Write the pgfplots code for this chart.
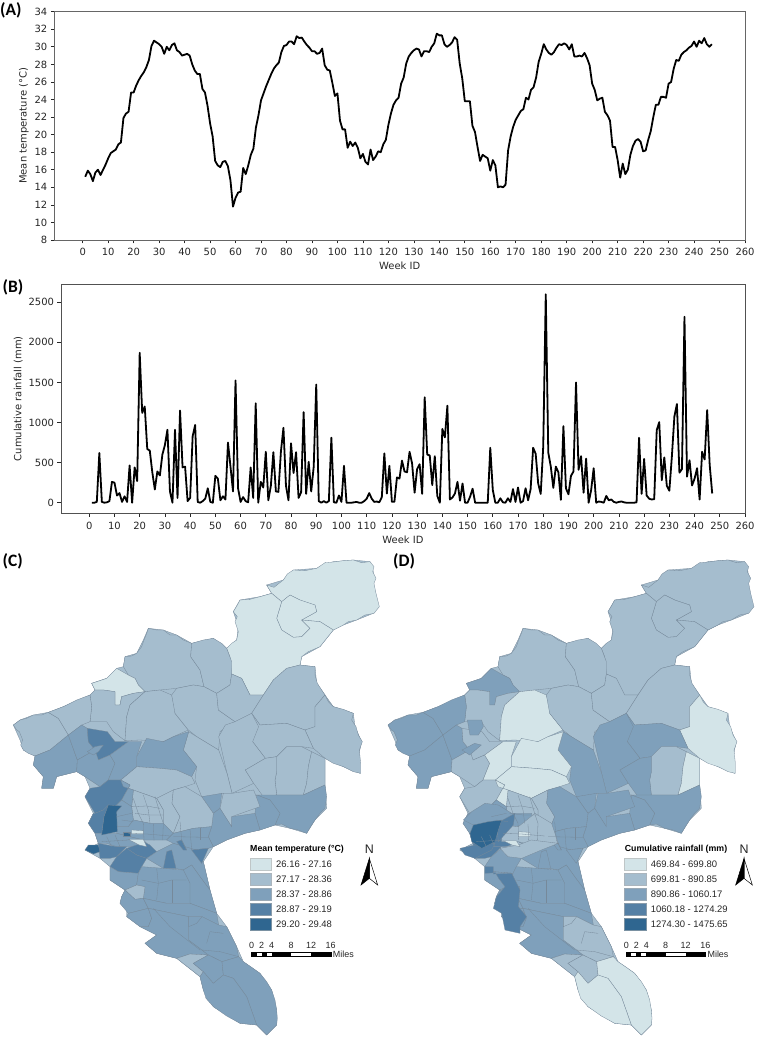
\documentclass[border=0pt]{standalone}
\usepackage{fontspec}
\setmainfont{DejaVu Sans}
\newfontfamily\calib{Carlito}
\newfontfamily\arial{Liberation Sans}
\usepackage{pgfplots}
\pgfplotsset{compat=1.18}

\definecolor{lev1}{HTML}{D3E4E8}
\definecolor{lev2}{HTML}{A5BDCE}
\definecolor{lev3}{HTML}{7FA0BB}
\definecolor{lev4}{HTML}{5580A5}
\definecolor{lev5}{HTML}{2F6690}
\definecolor{edgec}{HTML}{76899A}
\definecolor{inkc}{HTML}{262626}

\pgfplotsset{
  lineaxis/.style={
    scale only axis, axis on top=false,
    tick align=outside, major tick length=3.5bp,
    tick style={draw=inkc, line width=.7bp},
    xtick pos=bottom, ytick pos=left,
    axis line style={draw=inkc!80, line width=.7bp},
    xtick={0,10,...,260}, xmax=260,
    tick label style={font=\fontsize{10}{12}\selectfont, text=inkc},
    xticklabel style={yshift=-1.5bp},
    label style={font=\fontsize{10}{12}\selectfont, text=inkc},
    /pgf/number format/assume math mode=true,
    /pgf/number format/1000 sep={},
    xlabel={Week ID},
  },
  mapaxis/.style={
    scale only axis, hide axis, clip=false,
    width=380bp, height=487bp,
    xmin=0, xmax=1140, ymin=0, ymax=1461, y dir=reverse,
    anchor=south west,
  },
}

% districts, in pixels of the 3x crop: \R{level in C}{level in D}{outline}
\newcommand{\regions}{%
\R{1}{2}{(815,130)(800,105)(822,112)(850,90)(862,72)(880,60)(915,62)(950,55)(975,38)(1000,36)(1030,32)(1060,30)(1085,38)(1110,35)(1122,50)(1118,65)(1128,85)(1122,100)(1128,130)(1138,170)(1122,190)(1095,195)(1070,210)(1045,215)(1030,225)(1000,240)(960,215)(905,210)(950,185)(945,165)(900,150)(870,135)(845,155)}
\R{1}{2}{(870,135)(900,150)(945,165)(950,185)(905,210)(930,235)(905,260)(880,262)(845,240)(830,205)(845,155)}
\R{1}{2}{(720,150)(750,148)(780,140)(815,130)(845,155)(830,205)(845,240)(880,262)(905,260)(930,235)(905,210)(960,215)(1000,240)(980,265)(960,290)(925,305)(905,320)(900,345)(860,355)(820,390)(790,435)(750,435)(725,385)(695,372)(690,320)(680,295)(695,280)(710,270)(715,245)(705,215)(712,200)(700,185)(712,165)}
\R{2}{2}{(370,350)(375,320)(395,318)(410,310)(425,290)(432,270)(440,250)(445,235)(470,240)(490,240)(510,255)(530,255)(550,270)(575,280)(572,320)(600,360)(612,410)(580,405)(530,415)(480,420)(435,425)(415,405)(405,385)(385,375)}
\R{2}{2}{(575,280)(610,270)(640,265)(665,280)(680,295)(695,335)(695,372)(690,405)(650,430)(612,410)(600,360)(572,320)}
\R{1}{3}{(275,400)(300,392)(320,385)(335,370)(350,355)(385,375)(405,385)(415,405)(435,425)(400,430)(365,440)(360,465)(345,465)(345,425)(310,420)(285,420)}
\R{2}{2}{(285,420)(310,420)(345,425)(345,465)(360,465)(365,440)(400,430)(435,425)(390,465)(380,500)(375,572)(340,545)(320,515)(270,515)(275,470)(270,435)}
\R{2}{3}{(40,525)(60,510)(80,505)(100,495)(125,495)(145,487)(175,505)(205,555)(150,600)(105,618)(85,610)(70,600)(62,585)(68,570)(58,545)(50,540)}
\R{2}{3}{(145,487)(190,470)(230,450)(270,435)(275,470)(270,515)(245,525)(205,555)(175,505)}
\R{2}{1}{(435,425)(480,420)(515,435)(525,475)(525,490)(565,540)(520,560)(490,575)(420,570)(375,572)(380,500)(390,465)}
\R{2}{2}{(530,415)(580,405)(612,410)(650,430)(655,480)(705,515)(660,545)(656,600)(590,560)(565,540)(525,490)(515,435)}
\R{2}{2}{(650,430)(690,405)(695,372)(725,385)(750,435)(790,435)(755,490)(705,515)(655,480)}
\R{2}{2}{(790,435)(820,390)(860,355)(900,345)(925,348)(945,350)(945,375)(952,400)(965,420)(975,435)(945,470)(945,530)(915,540)(860,520)(780,525)(755,490)}
\R{2}{1}{(975,435)(985,455)(1000,470)(1030,478)(1060,490)(1055,510)(1068,530)(1075,555)(1087,575)(1078,600)(1082,640)(1082,670)(1060,665)(1030,650)(1000,640)(975,625)(940,595)(915,540)(945,530)(945,470)}
\R{2}{3}{(755,490)(780,525)(860,520)(915,540)(940,595)(905,590)(860,590)(830,620)(796,625)(758,575)}
\R{2}{3}{(656,560)(676,525)(705,515)(755,490)(776,530)(758,575)(796,625)(736,660)(761,700)(696,730)(681,670)}
\R{2}{2}{(830,620)(860,590)(905,590)(935,605)(925,650)(920,700)(910,735)(830,735)(825,690)(830,665)}
\R{2}{1}{(935,605)(975,625)(975,705)(910,735)(920,700)(925,650)}
\R{2}{3}{(796,625)(830,620)(830,665)(825,690)(830,735)(790,740)(761,700)(736,660)}
\R{2}{3}{(566,545)(590,560)(656,600)(681,670)(696,730)(670,730)(640,740)(605,740)(585,690)(590,650)(550,600)}
\R{3}{1}{(410,620)(440,565)(490,575)(520,560)(566,545)(550,600)(590,650)(575,680)(530,660)(480,655)(410,650)}
\R{2}{1}{(362,690)(410,650)(480,655)(530,660)(575,680)(585,700)(555,710)(520,720)(470,745)(400,720)(370,710)}
\R{3}{3}{(105,618)(150,600)(205,555)(232,630)(230,665)(170,680)(160,715)(125,715)(130,680)(100,645)}
\R{3}{3}{(205,555)(245,525)(262,535)(265,575)(285,600)(232,630)}
\R{4}{2}{(262,535)(322,545)(345,575)(385,575)(330,615)(295,630)(285,600)(265,575)}
\R{3}{2}{(232,630)(285,600)(295,630)(330,615)(345,640)(325,690)(300,710)(255,680)(230,665)}
\R{3}{1}{(330,615)(385,575)(425,575)(410,620)(410,650)(362,690)(325,690)(345,640)}
\R{3}{3}{(770,735)(830,735)(910,735)(975,705)(980,740)(975,775)(960,790)(945,810)(935,825)(920,850)(895,840)(870,835)(845,822)(825,825)(840,790)(810,750)}
\R{3}{3}{(770,735)(810,750)(840,790)(825,825)(780,840)(765,790)}
\R{3}{3}{(605,740)(665,730)(660,775)(640,790)}
\R{2}{3}{(670,730)(696,730)(761,720)(780,770)(695,800)(695,830)(675,800)(660,775)}
\R{3}{3}{(640,790)(660,775)(695,830)(695,800)(765,790)(780,840)(735,850)(680,870)(640,890)(625,860)(635,830)}
\R{2}{2}{(470,745)(520,720)(516,760)(540,800)(520,850)(490,820)(490,780)}
\R{2}{3}{(520,720)(555,710)(605,740)(640,790)(635,830)(580,835)(520,850)(540,800)(516,760)}
\R{2}{2}{(400,720)(470,745)(490,780)(490,820)(450,820)(400,810)(395,770)}
\R{4}{2}{(255,740)(270,715)(300,710)(325,690)(362,690)(390,705)(365,750)(345,770)(310,780)(285,790)}
\R{3}{1}{(362,690)(370,710)(400,720)(395,770)(365,750)(390,705)}
\R{4}{3}{(280,790)(285,790)(310,780)(325,765)(312,800)(305,850)(285,850)(265,820)}
\R{3}{3}{(345,770)(365,750)(395,770)(400,810)(385,830)(350,830)}
\R{3}{2}{(350,830)(385,830)(400,810)(450,820)(490,820)(520,850)(500,870)(430,870)(350,850)}
\R{3}{4}{(285,850)(305,850)(350,850)(430,870)(440,880)(430,890)(350,890)(320,880)(295,880)}
\R{3}{3}{(520,850)(580,835)(635,830)(625,860)(640,890)(625,895)(575,900)(520,880)(500,870)}
\R{4}{4}{(295,880)(350,890)(380,890)(350,920)(330,925)(300,925)}
\R{4}{2}{(430,875)(450,885)(470,905)(440,925)(410,915)(380,895)(410,885)}
\R{4}{3}{(330,950)(350,920)(380,895)(410,915)(440,925)(425,950)(415,970)(355,965)}
\R{3}{3}{(440,925)(470,905)(520,880)(590,900)(610,935)(630,1020)(600,980)(575,945)(550,960)(525,955)(490,955)}
\R{4}{3}{(500,905)(515,900)(528,955)(490,955)}
\R{4}{3}{(575,900)(625,895)(605,940)}
\R{4}{3}{(530,875)(545,870)(560,900)(550,900)}
\R{3}{3}{(330,950)(355,965)(415,970)(410,1005)(375,1020)(330,990)}
\R{3}{3}{(410,1005)(415,970)(425,950)(490,955)(550,960)(575,945)(600,980)(630,1020)(650,1090)(570,1060)(500,1060)(430,1045)(435,1010)}
\R{2}{3}{(375,1020)(410,1005)(435,1010)(430,1045)(405,1048)}
\R{3}{3}{(365,1040)(375,1020)(405,1048)(430,1045)(445,1075)(385,1090)(360,1060)}
\R{3}{3}{(380,1100)(385,1090)(445,1075)(455,1105)(445,1130)(420,1130)}
\R{3}{3}{(430,1045)(500,1060)(570,1060)(650,1090)(656,1125)(606,1100)(566,1100)(445,1075)}
\R{3}{3}{(445,1075)(566,1100)(566,1170)(606,1200)(625,1215)(570,1212)(530,1225)(470,1210)(435,1180)(470,1155)(420,1130)(445,1130)(455,1105)}
\R{3}{2}{(566,1100)(606,1100)(656,1125)(680,1130)(710,1190)(716,1220)(666,1235)(625,1215)(606,1200)(566,1170)}
\R{2}{2}{(530,1225)(570,1212)(625,1215)(580,1240)(610,1265)(600,1280)}
\R{3}{2}{(580,1240)(625,1215)(666,1235)(670,1275)(640,1300)(610,1265)}
\R{3}{1}{(666,1235)(716,1220)(730,1235)(755,1252)(780,1270)(800,1295)(815,1320)(825,1350)(830,1380)(832,1405)(830,1425)(815,1440)(800,1455)(785,1440)(770,1425)(740,1340)(700,1285)(670,1275)}
\R{3}{1}{(600,1280)(610,1265)(640,1300)(670,1275)(700,1285)(740,1340)(770,1425)(720,1420)(680,1398)(640,1370)(618,1345)(610,1320)}
}

% outline under the districts
\newcommand{\outline}{%
\R{2}{2}{(40,525)(60,510)(100,495)(145,487)(190,470)(270,435)(285,420)(275,400)(320,385)(350,355)(370,350)(375,320)(410,310)(430,270)(445,235)(490,240)(530,255)(575,280)(640,265)(680,295)(710,270)(715,230)(700,185)(720,150)(780,140)(815,130)(800,105)(850,90)(880,60)(950,55)(1000,35)(1060,30)(1110,35)(1120,65)(1120,100)(1135,170)(1120,190)(1070,210)(1030,225)(1000,240)(960,290)(905,320)(900,345)(945,350)(950,400)(975,435)(1000,470)(1060,490)(1065,530)(1085,575)(1075,620)(1080,670)(1030,650)(975,625)(975,705)(980,775)(945,810)(920,850)(870,835)(825,825)(780,840)(735,850)(680,870)(640,890)(610,935)(630,1020)(650,1090)(680,1130)(710,1190)(730,1235)(780,1270)(815,1320)(830,1380)(830,1425)(800,1455)(770,1425)(720,1420)(640,1370)(610,1320)(600,1280)(530,1225)(470,1210)(435,1180)(470,1155)(420,1130)(380,1100)(380,1080)(360,1060)(365,1040)(375,1020)(330,990)(330,950)(300,925)(255,900)(295,880)(285,850)(265,820)(280,790)(255,740)(270,715)(255,680)(230,665)(170,680)(160,715)(125,715)(130,680)(100,645)(105,618)(70,600)(60,570)}
}

% short district borders in the crowded centre
\newcommand{\borders}{%
\addplot[draw=edgec, line width=.3pt] coordinates {(400,745)(415,790)(430,820)};
\addplot[draw=edgec, line width=.3pt] coordinates {(430,735)(445,780)(450,820)};
\addplot[draw=edgec, line width=.3pt] coordinates {(465,740)(480,790)(490,820)};
\addplot[draw=edgec, line width=.3pt] coordinates {(395,770)(440,768)(480,775)};
\addplot[draw=edgec, line width=.3pt] coordinates {(405,790)(445,795)(490,795)};
\addplot[draw=edgec, line width=.3pt] coordinates {(385,850)(440,852)(510,858)};
\addplot[draw=edgec, line width=.3pt] coordinates {(430,820)(432,870)};
\addplot[draw=edgec, line width=.3pt] coordinates {(460,822)(462,872)};
\addplot[draw=edgec, line width=.3pt] coordinates {(490,820)(488,870)};
\addplot[draw=edgec, line width=.3pt] coordinates {(540,815)(545,870)(560,900)};
\addplot[draw=edgec, line width=.3pt] coordinates {(570,838)(575,900)};
\addplot[draw=edgec, line width=.3pt] coordinates {(600,835)(600,870)};
\addplot[draw=edgec, line width=.3pt] coordinates {(520,860)(625,862)};
\addplot[draw=edgec, line width=.3pt] coordinates {(320,860)(335,890)};
\addplot[draw=edgec, line width=.3pt] coordinates {(345,855)(360,890)};
\addplot[draw=edgec, line width=.3pt] coordinates {(305,875)(385,870)};
\addplot[draw=edgec, line width=.3pt] coordinates {(365,810)(400,815)};
\addplot[draw=edgec, line width=.3pt] coordinates {(350,800)(395,790)};
\addplot[draw=edgec, line width=.3pt] coordinates {(470,955)(475,1000)(470,1050)};
\addplot[draw=edgec, line width=.3pt] coordinates {(425,990)(475,1000)(515,990)(560,990)};
\addplot[draw=edgec, line width=.3pt] coordinates {(515,990)(515,1058)};
\addplot[draw=edgec, line width=.3pt] coordinates {(550,960)(570,1000)(570,1060)};
\addplot[draw=edgec, line width=.3pt] coordinates {(566,1100)(566,1130)(590,1120)(606,1100)};
\addplot[draw=edgec, line width=.3pt] coordinates {(620,1180)(630,1145)(670,1150)};
\addplot[draw=edgec, line width=.3pt] coordinates {(606,1200)(660,1205)(716,1220)};
\addplot[draw=edgec, line width=.3pt] coordinates {(460,1075)(510,1130)(600,1200)};
}

\newcommand{\addlegend}[6]{%
\addplot[fill=lev1, draw=lev1!70!black!60, line width=.5pt] coordinates {(750,925)(815,925)(815,960)(750,960)} -- cycle;
\addplot[fill=lev2, draw=lev2!70!black!60, line width=.5pt] coordinates {(750,970)(815,970)(815,1005)(750,1005)} -- cycle;
\addplot[fill=lev3, draw=lev3!70!black!60, line width=.5pt] coordinates {(750,1015)(815,1015)(815,1050)(750,1050)} -- cycle;
\addplot[fill=lev4, draw=lev4!70!black!60, line width=.5pt] coordinates {(750,1060)(815,1060)(815,1095)(750,1095)} -- cycle;
\addplot[fill=lev5, draw=lev5!70!black!60, line width=.5pt] coordinates {(750,1105)(815,1105)(815,1140)(750,1140)} -- cycle;
\node[anchor=west, inner sep=0pt, font=\arial\bfseries\fontsize{8.8}{10}\selectfont] at (axis cs:750,899) {#1};
\node[anchor=west, inner sep=0pt, text=inkc, font=\arial\fontsize{9.5}{11}\selectfont] at (axis cs:828,944) {#2};
\node[anchor=west, inner sep=0pt, text=inkc, font=\arial\fontsize{9.5}{11}\selectfont] at (axis cs:828,989) {#3};
\node[anchor=west, inner sep=0pt, text=inkc, font=\arial\fontsize{9.5}{11}\selectfont] at (axis cs:828,1034) {#4};
\node[anchor=west, inner sep=0pt, text=inkc, font=\arial\fontsize{9.5}{11}\selectfont] at (axis cs:828,1079) {#5};
\node[anchor=west, inner sep=0pt, text=inkc, font=\arial\fontsize{9.5}{11}\selectfont] at (axis cs:828,1124) {#6};
% north arrow
\node[inner sep=0pt, text=inkc, font=\arial\fontsize{12.5}{14}\selectfont] at (axis cs:1108,899) {N};
\addplot[fill=white, draw=black, line width=.5pt] coordinates {(1108,925)(1133,1005)(1108,985)} -- cycle;
\addplot[fill=black, draw=black, line width=.5pt] coordinates {(1108,925)(1083,1005)(1108,985)} -- cycle;
% scale bar
\addplot[fill=white, draw=black, line width=.5pt] coordinates {(755,1207)(993,1207)(993,1220)(755,1220)} -- cycle;
\addplot[fill=black, draw=none] coordinates {(755,1207)(770,1207)(770,1220)(755,1220)} -- cycle;
\addplot[fill=black, draw=none] coordinates {(785,1207)(800,1207)(800,1220)(785,1220)} -- cycle;
\addplot[fill=black, draw=none] coordinates {(815,1207)(873,1207)(873,1220)(815,1220)} -- cycle;
\addplot[fill=black, draw=none] coordinates {(933,1207)(993,1207)(993,1220)(933,1220)} -- cycle;
\foreach \xx/\tt in {755/0,785/2,815/4,873/8,933/12,992/16}{
  \edef\tmp{\noexpand\node[text=inkc, inner sep=0pt, font=\noexpand\arial\noexpand\fontsize{9}{10}\noexpand\selectfont] at (axis cs:\xx,1185) {\tt};}\tmp
}
\node[anchor=west, inner sep=0pt, text=inkc, font=\arial\fontsize{9}{10}\selectfont] at (axis cs:998,1213) {Miles};
}

\begin{document}
\begin{tikzpicture}
\path[use as bounding box] (0,0) rectangle (759bp,1037bp);

% (A) mean temperature
\begin{axis}[lineaxis, at={(54.3bp,797bp)}, anchor=south west,
  width=690.7bp, height=228.3bp,
  xmin=-11.15, ymin=8, ymax=34, ytick={8,10,...,34},
  ylabel={Mean temperature (°C)},
  xlabel style={yshift=0.5bp}, ylabel style={yshift=-1bp},
  axis line style={draw=black!60, line width=.8bp},
]
\addplot[black, line width=1.8bp, line join=round] coordinates {
(1,15.2)(2,15.9)(3,15.5)(4,14.7)(5,15.7)(6,16.0)(7,15.4)(8,16.0)(9,16.6)(10,17.3)
(11,17.9)(12,18.1)(13,18.3)(14,18.9)(15,19.1)(16,21.9)(17,22.4)(18,22.6)(19,24.8)(20,24.8)
(21,25.6)(22,26.2)(23,26.7)(24,27.1)(25,27.7)(26,28.5)(27,30.1)(28,30.7)(29,30.5)(30,30.3)
(31,30.0)(32,29.2)(33,30.0)(34,29.6)(35,30.2)(36,30.4)(37,29.6)(38,29.4)(39,29.0)(40,29.1)
(41,29.2)(42,29.0)(43,28.0)(44,27.3)(45,26.9)(46,26.9)(47,25.2)(48,24.8)(49,23.3)(50,21.3)
(51,19.8)(52,17.0)(53,16.5)(54,16.3)(55,16.9)(56,17.0)(57,16.4)(58,14.8)(59,11.8)(60,12.8)
(61,13.4)(62,13.5)(63,16.2)(64,15.5)(65,16.5)(66,17.7)(67,18.4)(68,20.8)(69,22.2)(70,23.9)
(71,24.7)(72,25.5)(73,26.2)(74,26.9)(75,27.5)(76,27.9)(77,28.2)(78,29.4)(79,30.1)(80,30.2)
(81,30.6)(82,30.6)(83,30.3)(84,31.2)(85,31.0)(86,31.05)(87,30.6)(88,30.2)(89,29.9)(90,29.5)
(91,29.5)(92,29.2)(93,29.3)(94,29.8)(95,27.9)(96,27.4)(97,27.3)(98,25.9)(99,24.4)(100,24.7)
(101,21.6)(102,20.6)(103,20.6)(104,18.5)(105,19.2)(106,18.7)(107,19.1)(108,18.5)(109,17.3)(110,17.8)
(111,16.9)(112,16.6)(113,18.3)(114,17.1)(115,17.5)(116,18.1)(117,18.0)(118,18.9)(119,19.4)(120,21.1)
(121,22.4)(122,23.4)(123,23.9)(124,24.2)(125,25.8)(126,26.5)(127,28.1)(128,28.9)(129,29.3)(130,29.6)
(131,29.8)(132,29.7)(133,28.9)(134,29.5)(135,29.5)(136,29.4)(137,30.0)(138,30.4)(139,31.5)(140,31.3)
(141,31.3)(142,30.3)(143,30.0)(144,30.2)(145,30.5)(146,31.1)(147,30.8)(148,28.1)(149,26.4)(150,23.8)
(151,23.8)(152,23.8)(153,21.0)(154,20.3)(155,18.6)(156,17.0)(157,17.7)(158,17.5)(159,17.3)(160,15.9)
(161,17.1)(162,16.5)(163,14.0)(164,14.1)(165,14.0)(166,14.3)(167,18.2)(168,19.8)(169,20.9)(170,21.7)
(171,22.2)(172,22.7)(173,22.9)(174,24.2)(175,24.0)(176,25.1)(177,25.4)(178,26.5)(179,28.3)(180,29.2)
(181,30.3)(182,29.7)(183,29.3)(184,29.1)(185,29.4)(186,29.9)(187,30.3)(188,30.2)(189,30.4)(190,30.2)
(191,29.7)(192,30.3)(193,28.9)(194,28.9)(195,29.0)(196,28.9)(197,29.3)(198,28.7)(199,27.9)(200,25.8)
(201,25.1)(202,23.9)(203,24.1)(204,24.2)(205,22.6)(206,22.2)(207,21.6)(208,18.6)(209,18.6)(210,17.1)
(211,15.1)(212,16.7)(213,15.5)(214,16.0)(215,17.7)(216,18.7)(217,19.3)(218,19.5)(219,19.2)(220,18.1)
(221,18.2)(222,19.4)(223,20.4)(224,22.0)(225,23.4)(226,23.4)(227,24.3)(228,24.3)(229,24.2)(230,25.8)
(231,26.0)(232,27.5)(233,28.5)(234,28.4)(235,29.1)(236,29.4)(237,29.6)(238,29.9)(239,30.1)(240,30.6)
(241,30.0)(242,30.7)(243,30.4)(244,31.0)(245,30.3)(246,30.0)(247,30.3)
};
\end{axis}

% (B) cumulative rainfall
\begin{axis}[lineaxis, at={(61bp,523.7bp)}, anchor=south west,
  width=684bp, height=229bp,
  xmin=-11.2, ymin=-132, ymax=2724, ytick={0,500,...,2500},
  ylabel={Cumulative rainfall (mm)},
  xlabel style={yshift=0.5bp}, ylabel style={yshift=-1bp},
]
\addplot[black, line width=1.8bp, line join=round] coordinates {
(1,0)(2,0)(3,10)(4,620)(5,10)(6,0)(7,5)(8,20)(9,260)(10,250)
(11,90)(12,120)(13,10)(14,80)(15,10)(16,465)(17,0)(18,440)(19,270)(20,1870)
(21,1120)(22,1200)(23,670)(24,650)(25,380)(26,165)(27,390)(28,340)(29,600)(30,720)
(31,910)(32,140)(33,0)(34,910)(35,60)(36,1150)(37,440)(38,450)(39,20)(40,60)
(41,830)(42,970)(43,10)(44,0)(45,20)(46,50)(47,180)(48,10)(49,0)(50,335)
(51,300)(52,30)(53,80)(54,40)(55,750)(56,450)(57,140)(58,1525)(59,180)(60,10)
(61,70)(62,20)(63,5)(64,440)(65,60)(66,1240)(67,0)(68,260)(69,190)(70,635)
(71,30)(72,210)(73,630)(74,140)(75,135)(76,640)(77,935)(78,210)(79,30)(80,740)
(81,370)(82,630)(83,60)(84,130)(85,1130)(86,110)(87,510)(88,140)(89,450)(90,1475)
(91,20)(92,0)(93,20)(94,0)(95,20)(96,810)(97,5)(98,0)(99,90)(100,10)
(101,460)(102,0)(103,0)(104,0)(105,5)(106,10)(107,0)(108,0)(109,20)(110,50)
(111,120)(112,50)(113,10)(114,15)(115,5)(116,70)(117,615)(118,115)(119,460)(120,12)
(121,12)(122,315)(123,300)(124,525)(125,390)(126,380)(127,635)(128,490)(129,125)(130,420)
(131,480)(132,110)(133,1315)(134,600)(135,590)(136,220)(137,580)(138,85)(139,0)(140,920)
(141,815)(142,1210)(143,40)(144,65)(145,115)(146,260)(147,25)(148,240)(149,0)(150,0)
(151,75)(152,175)(153,0)(154,0)(155,0)(156,0)(157,0)(158,0)(159,685)(160,160)
(161,0)(162,0)(163,55)(164,5)(165,0)(166,55)(167,10)(168,170)(169,10)(170,190)
(171,0)(172,20)(173,180)(174,30)(175,170)(176,685)(177,610)(178,240)(179,110)(180,700)
(181,2600)(182,625)(183,450)(184,185)(185,450)(186,380)(187,35)(188,955)(189,180)(190,105)
(191,335)(192,390)(193,1500)(194,410)(195,580)(196,125)(197,550)(198,0)(199,160)(200,430)
(201,0)(202,15)(203,10)(204,0)(205,85)(206,30)(207,40)(208,10)(209,0)(210,10)
(211,15)(212,5)(213,0)(214,0)(215,0)(216,0)(217,5)(218,810)(219,110)(220,545)
(221,90)(222,50)(223,40)(224,45)(225,905)(226,1005)(227,280)(228,565)(229,210)(230,150)
(231,575)(232,1075)(233,1230)(234,375)(235,420)(236,2320)(237,325)(238,530)(239,215)(240,300)
(241,430)(242,40)(243,635)(244,540)(245,1155)(246,470)(247,115)
};
\end{axis}

% (C) mean temperature map
\begin{axis}[mapaxis, at={(0bp,0bp)}]
\def\R#1#2#3{\addplot[fill=lev#1, draw=edgec, line width=.3pt] coordinates {#3} -- cycle;}
\outline
\regions
\R{5}{5}{(325,765)(365,768)(350,785)(352,845)(305,855)(312,800)}
\R{5}{5}{(368,845)(390,845)(390,858)(368,858)}
\R{1}{1}{(395,840)(430,842)(430,852)(395,852)}
\R{1}{1}{(385,868)(430,868)(440,890)(418,885)}
\R{5}{5}{(255,900)(265,885)(295,885)(300,905)(280,912)}
\R{3}{3}{(262,605)(285,590)(310,585)(295,605)(280,615)}
\borders
\addlegend{Mean temperature (°C)}{26.16 - 27.16}{27.17 - 28.36}{28.37 - 28.86}{28.87 - 29.19}{29.20 - 29.48}
\end{axis}

% (D) cumulative rainfall map, same districts a little further left
\begin{axis}[mapaxis, at={(374.67bp,0bp)}]
\def\R#1#2#3{\addplot[fill=lev#2, draw=edgec, line width=.3pt] coordinates {#3} -- cycle;}
\outline
\regions
\R{3}{3}{(278,510)(321,510)(326,530)(311,555)(286,555)}
\R{3}{3}{(262,600)(300,580)(320,585)(285,615)}
\R{3}{3}{(266,810)(291,785)(331,760)(371,765)(411,790)(471,790)(471,820)(421,830)(371,820)(296,825)}
\R{2}{2}{(381,825)(431,830)(481,790)(531,820)(551,880)(471,885)(431,875)(381,875)}
\R{2}{2}{(376,895)(431,885)(470,870)(551,880)(500,900)(441,925)(400,920)}
\R{4}{4}{(366,820)(421,790)(416,825)(371,875)}
\R{4}{4}{(256,895)(301,885)(361,880)(351,900)(301,925)(271,915)}
\R{5}{5}{(286,850)(296,825)(341,815)(381,810)(371,840)(361,875)(321,895)(291,875)}
\R{1}{1}{(431,845)(466,847)(466,860)(431,860)}
\R{1}{1}{(386,872)(425,872)(436,890)(412,885)}
\R{4}{4}{(331,950)(356,950)(356,972)(411,970)(436,1020)(431,1070)(456,1100)(436,1130)(436,1150)(391,1140)(381,1090)(356,1075)(366,1040)(391,1010)(372,985)(362,968)(331,970)}
\borders
\addlegend{Cumulative rainfall (mm)}{469.84 - 699.80}{699.81 - 890.85}{890.86 - 1060.17}{1060.18 - 1274.29}{1274.30 - 1475.65}
\end{axis}

% panel letters
\node[anchor=west, inner sep=0pt, font=\calib\bfseries\fontsize{17.5}{20}\selectfont] at (0bp,1027bp) {(A)};
\node[anchor=west, inner sep=0pt, font=\calib\bfseries\fontsize{17.5}{20}\selectfont] at (2.5bp,750bp) {(B)};
\node[anchor=west, inner sep=0pt, font=\calib\bfseries\fontsize{17.5}{20}\selectfont] at (2.5bp,475.5bp) {(C)};
\node[anchor=west, inner sep=0pt, font=\calib\bfseries\fontsize{17.5}{20}\selectfont] at (393bp,475.5bp) {(D)};
\end{tikzpicture}
\end{document}
